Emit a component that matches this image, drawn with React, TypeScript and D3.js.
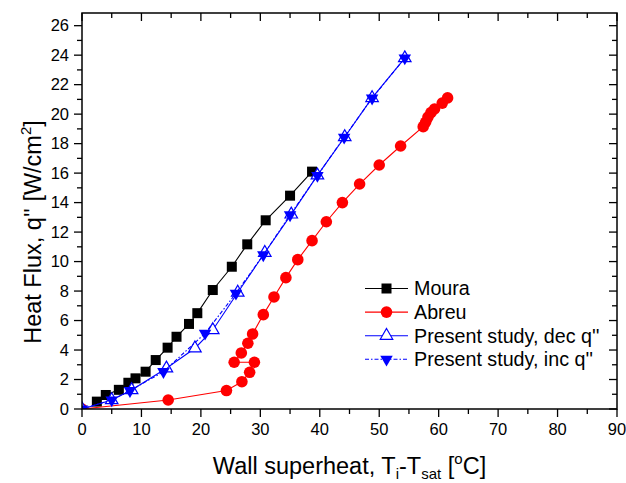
import React from "react";
import * as d3 from "d3";

const mouraX = [2.5, 4.0, 6.2, 7.8, 9.0, 10.7, 12.4, 14.4, 15.9, 18.0, 19.4, 22.0, 25.2, 27.8, 30.9, 35.0, 38.7];
const mouraY = [0.5, 0.95, 1.3, 1.78, 2.08, 2.53, 3.32, 4.16, 4.9, 5.77, 6.5, 8.07, 9.65, 11.17, 12.8, 14.47, 16.1];

const abreuX = [0, 14.5, 24.3, 26.9, 28.2, 29.0, 25.6, 26.8, 27.9, 28.7, 30.5, 32.3, 34.3, 36.3, 38.7, 41.1, 43.8, 46.7, 50.0, 53.6, 57.4, 57.8, 58.2, 58.7, 59.3, 60.6, 61.5];
const abreuY = [0, 0.61, 1.25, 1.85, 2.49, 3.17, 3.17, 3.8, 4.46, 5.09, 6.4, 7.6, 8.91, 10.13, 11.42, 12.7, 14.0, 15.26, 16.55, 17.84, 19.15, 19.45, 19.8, 20.1, 20.35, 20.75, 21.1];

const decX = [0, 5.0, 8.35, 14.2, 19.0, 22.0, 26.2, 30.75, 35.2, 39.6, 44.2, 48.8, 54.3];
const decY = [0, 0.61, 1.29, 2.76, 4.12, 5.36, 7.9, 10.6, 13.2, 15.85, 18.45, 21.1, 23.8];

const incX = [0, 5.0, 8.07, 13.7, 20.7, 25.9, 30.5, 35.0, 39.6, 44.1, 48.8, 54.3];
const incY = [0, 0.61, 1.24, 2.53, 5.13, 7.85, 10.45, 13.16, 15.83, 18.43, 21.08, 23.8];

const xMajor = [0, 10, 20, 30, 40, 50, 60, 70, 80, 90];
const yMajor = [0, 2, 4, 6, 8, 10, 12, 14, 16, 18, 20, 22, 24, 26];

const legendLabels = ["Moura", "Abreu", "Present study, dec q''", "Present study, inc q''"];

const W = 626, H = 483;
const M = { left: 82, right: 617, top: 13, bottom: 409 };
const FONT = "'Liberation Sans', Arial, Helvetica, sans-serif";
const BLUE = "#0000ff";
const RED = "#ff0000";

type Kind = "square" | "circle" | "triUp" | "triDown";

function Marker({ kind, x, y, color }: { kind: Kind; x: number; y: number; color: string }) {
  if (kind === "square") {
    const s = 10;
    return <rect x={x - s / 2} y={y - s / 2} width={s} height={s} fill={color} />;
  }
  if (kind === "circle") {
    return <circle cx={x} cy={y} r={5.8} fill={color} />;
  }
  const w = 12.5;
  const h = w * 0.866;
  if (kind === "triUp") {
    const d = `M${x},${y - (2 * h) / 3}L${x + w / 2},${y + h / 3}L${x - w / 2},${y + h / 3}Z`;
    return <path d={d} fill="white" stroke={color} strokeWidth={1.2} />;
  }
  const d = `M${x},${y + (2 * h) / 3}L${x + w / 2},${y - h / 3}L${x - w / 2},${y - h / 3}Z`;
  return <path d={d} fill={color} />;
}

export default function App() {
  const x = d3.scaleLinear().domain([0, 90]).range([M.left, M.right]);
  const y = d3.scaleLinear().domain([0, 26.86]).range([M.bottom, M.top]);

  const line = d3
    .line<[number, number]>()
    .x((d) => x(d[0]))
    .y((d) => y(d[1]));

  const zip = (a: number[], b: number[]) => a.map((v, i) => [v, b[i]] as [number, number]);

  const series = [
    { pts: zip(mouraX, mouraY), color: "#000", lineColor: "#000", kind: "square" as Kind, dash: undefined },
    { pts: zip(abreuX, abreuY), color: RED, lineColor: RED, kind: "circle" as Kind, dash: undefined },
    { pts: zip(decX, decY), color: BLUE, lineColor: BLUE, kind: "triUp" as Kind, dash: undefined },
    { pts: zip(incX, incY), color: BLUE, lineColor: BLUE, kind: "triDown" as Kind, dash: "4,2,1.5,2" },
  ];

  const xMinor = d3.range(5, 90, 10);
  const yMinor = d3.range(1, 27, 2);

  const majorLen = 8;
  const minorLen = 5;

  return (
    <svg width={W} height={H} style={{ position: "absolute", left: 0, top: 0, background: "#fff" }} fontFamily={FONT}>
      <defs>
        <clipPath id="plotclip">
          <rect x={M.left} y={M.top} width={M.right - M.left} height={M.bottom - M.top} />
        </clipPath>
      </defs>
      <rect x={0} y={0} width={W} height={H} fill="#fff" />

      {/* data */}
      <g clipPath="url(#plotclip)">
        {series.map((s, i) => (
          <g key={i}>
            <path d={line(s.pts) || ""} fill="none" stroke={s.lineColor} strokeWidth={1.1} strokeDasharray={s.dash} />
            {s.pts.map((p, j) => (
              <Marker key={j} kind={s.kind} x={x(p[0])} y={y(p[1])} color={s.color} />
            ))}
          </g>
        ))}
      </g>

      {/* frame */}
      <rect x={M.left} y={M.top} width={M.right - M.left} height={M.bottom - M.top} fill="none" stroke="#000" strokeWidth={1.5} />

      {/* bottom / top axis ticks */}
      {xMajor.map((v) => (
        <g key={"xb" + v}>
          <line x1={x(v)} x2={x(v)} y1={M.bottom} y2={M.bottom + majorLen} stroke="#000" strokeWidth={1.3} />
          <line x1={x(v)} x2={x(v)} y1={M.top} y2={M.top + majorLen} stroke="#000" strokeWidth={1.3} />
          <text x={x(v)} y={M.bottom + 26} textAnchor="middle" fontSize={16.5}>{v}</text>
        </g>
      ))}
      {xMinor.map((v) => (
        <g key={"xm" + v}>
          <line x1={x(v)} x2={x(v)} y1={M.bottom} y2={M.bottom + minorLen} stroke="#000" strokeWidth={1.3} />
          <line x1={x(v)} x2={x(v)} y1={M.top} y2={M.top + minorLen} stroke="#000" strokeWidth={1.3} />
        </g>
      ))}

      {/* left / right axis ticks */}
      {yMajor.map((v) => (
        <g key={"yl" + v}>
          <line x1={M.left - majorLen} x2={M.left} y1={y(v)} y2={y(v)} stroke="#000" strokeWidth={1.3} />
          <line x1={M.right - majorLen} x2={M.right} y1={y(v)} y2={y(v)} stroke="#000" strokeWidth={1.3} />
          <text x={M.left - 13} y={y(v)} dy="0.35em" textAnchor="end" fontSize={16.5}>{v}</text>
        </g>
      ))}
      {yMinor.map((v) => (
        <g key={"ym" + v}>
          <line x1={M.left - minorLen} x2={M.left} y1={y(v)} y2={y(v)} stroke="#000" strokeWidth={1.3} />
          <line x1={M.right - minorLen} x2={M.right} y1={y(v)} y2={y(v)} stroke="#000" strokeWidth={1.3} />
        </g>
      ))}

      {/* axis titles */}
      <text x={(M.left + M.right) / 2} y={474} textAnchor="middle" fontSize={23.5}>
        Wall superheat, T
        <tspan fontSize={15} dy={5}>i</tspan>
        <tspan dy={-5}>-T</tspan>
        <tspan fontSize={15} dy={5}>sat</tspan>
        <tspan dy={-5}> [</tspan>
        <tspan fontSize={15} dy={-10}>o</tspan>
        <tspan dy={10}>C]</tspan>
      </text>
      <text transform={`translate(41,232) rotate(-90)`} textAnchor="middle" fontSize={23.5}>
        Heat Flux, q'' [W/cm
        <tspan fontSize={15} dy={-10}>2</tspan>
        <tspan dy={10}>]</tspan>
      </text>

      {/* legend */}
      {series.map((s, i) => {
        const ly = 288.5 + i * 23.6;
        return (
          <g key={"lg" + i}>
            <line x1={365} x2={408} y1={ly} y2={ly} stroke={s.lineColor} strokeWidth={1.1} strokeDasharray={s.dash} />
            <Marker kind={s.kind} x={386.5} y={ly} color={s.color} />
            <text x={414} y={ly} dy="0.35em" fontSize={19.7}>{legendLabels[i]}</text>
          </g>
        );
      })}
    </svg>
  );
}
